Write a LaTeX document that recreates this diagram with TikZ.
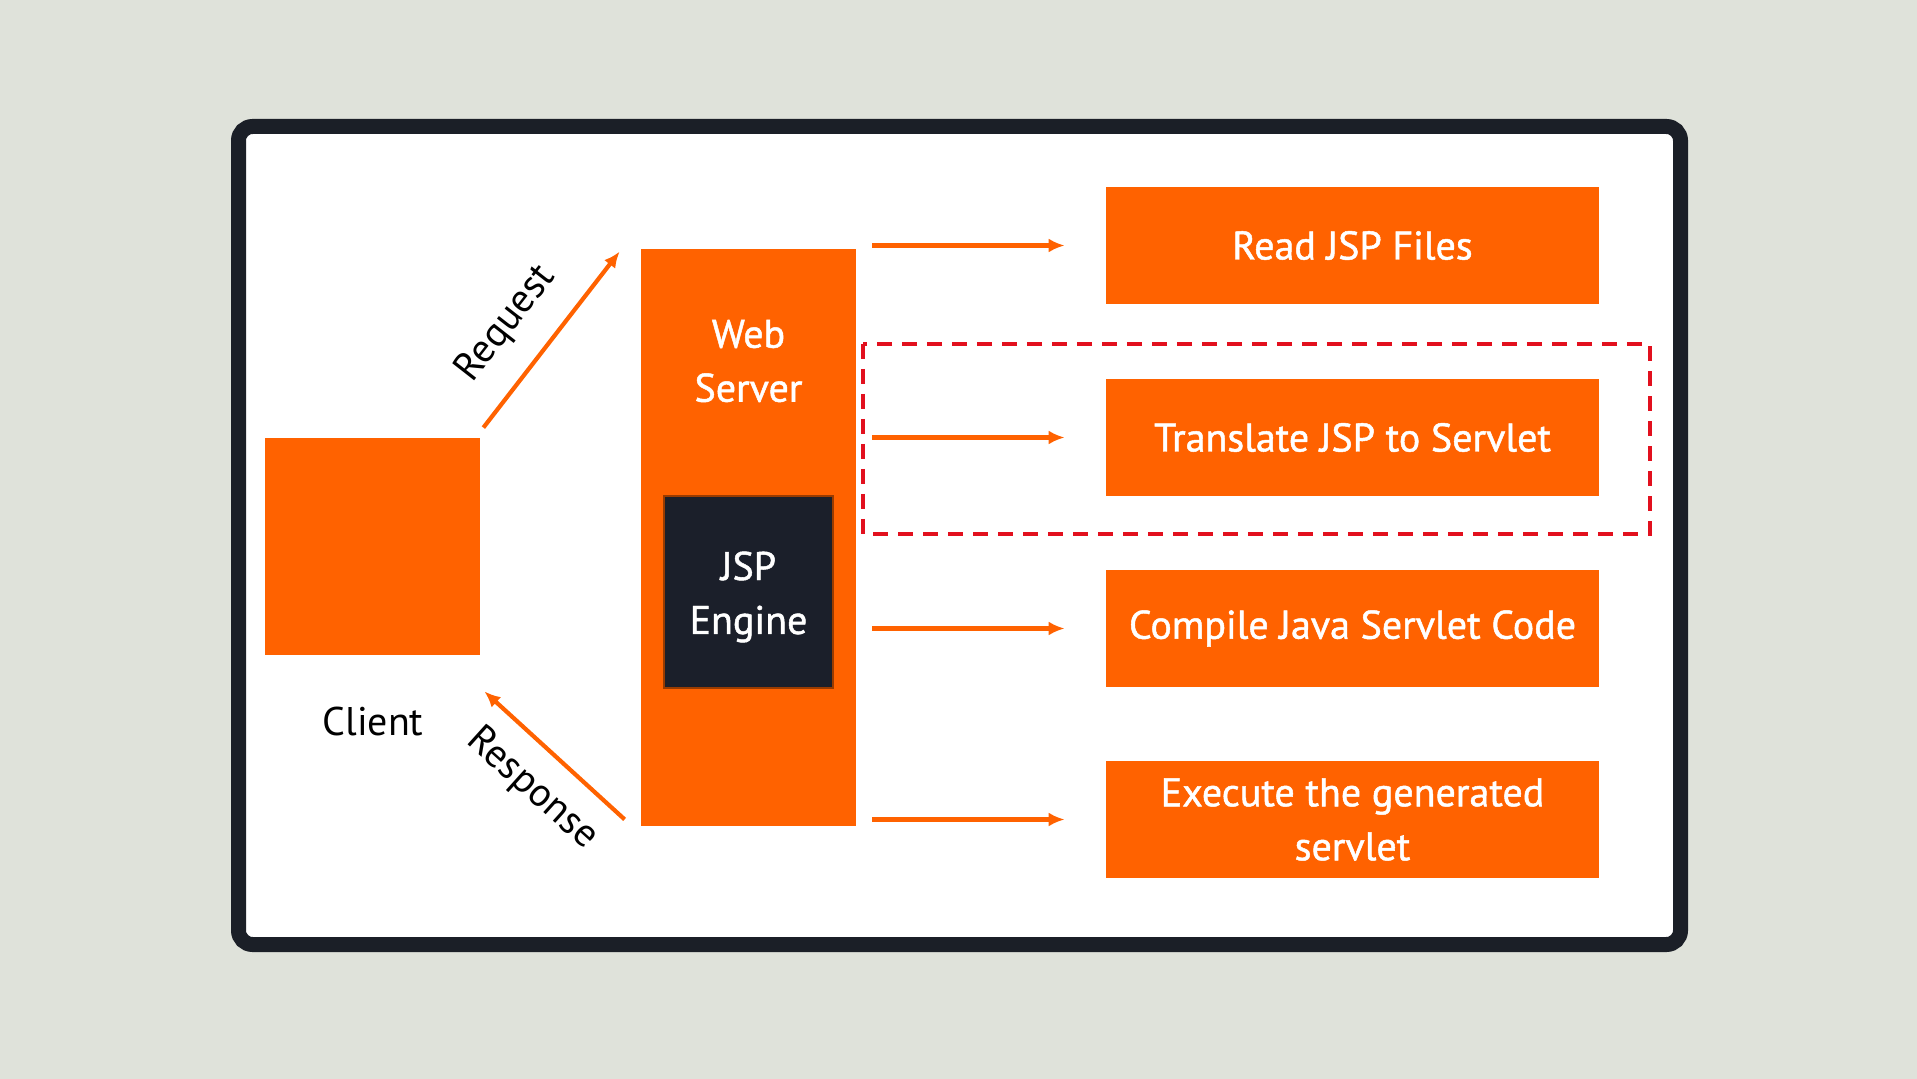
\documentclass[tikz,border=0pt]{standalone}
\usepackage{fontspec}
\setmainfont{PT Sans}
\newfontfamily\boxfont{PT Sans}[FakeBold=1.2]
\usepackage{tikz}
\usetikzlibrary{calc,arrows.meta}

\definecolor{bgcol}{RGB}{223,226,218}
\definecolor{framecol}{RGB}{27,31,39}
\definecolor{jsporange}{RGB}{255,98,0}
\definecolor{enginecol}{RGB}{27,31,42}
\definecolor{dashred}{RGB}{226,16,30}

\tikzset{
    orangebox/.style={fill=jsporange, draw=none, inner sep=0pt, text=white, align=center,
        font=\boxfont\fontsize{20}{27}\selectfont},
    stepbox/.style={orangebox, minimum width=246.5pt, minimum height=58.5pt},
    flowarrow/.style={draw=jsporange, line width=2.1pt, -{Latex[length=8pt,width=7pt]}},
    sidelabel/.style={font=\fontsize{20}{24}\selectfont, text=black}
}

\begin{document}
\begin{tikzpicture}[x=0.5pt, y=-0.5pt]
    % Background and frame
    \fill[bgcol] (0,0) rectangle (1917,1079);
    \useasboundingbox (0,0) rectangle (1917,1079);
    \draw[framecol, line width=7.5pt, fill=white, rounded corners=7pt] (238.5,126.5) rectangle (1680.5,944.5);

    % Client and web server
    \node[orangebox, minimum width=107.5pt, minimum height=108.5pt] (client) at (372.5,546.5) {};
    \node[sidelabel] (clientlabel) at (373,721) {Client};
    \node[orangebox, minimum width=107.5pt, minimum height=288.5pt] (web) at (748.5,537.5) {};
    \node[orangebox, fill=none] (weblabel) at (748.5,361) {Web\\Server};
    \node[orangebox, fill=enginecol, draw=jsporange!60!black, line width=0.6pt,
        minimum width=84.5pt, minimum height=96pt] (engine) at (748.5,592) {};
    \node[orangebox, fill=none] (enginelabel) at (748.5,597) {JSP\\Engine};

    % Steps
    \node[stepbox] (read) at (1352.5,245.5) {Read JSP Files};
    \node[stepbox] (translate) at (1352.5,437.5) {Translate JSP to Servlet};
    \node[stepbox] (compile) at (1352.5,628.5) {Compile Java Servlet Code};
    \node[stepbox] (execute) at (1352.5,819.5) {Execute the generated\\servlet};

    % Request / response
    \draw[flowarrow] ($(client.north east)+(3,-10)$) -- ($(web.north west)+(-21,3)$);
    \node[sidelabel, rotate=52] (reqlabel) at (506,324) {Request};
    \draw[flowarrow] ($(web.south west)+(-16,-7)$) -- ($(client.south east)+(4,36)$);
    \node[sidelabel, rotate=-42] (resplabel) at (532,789) {Response};

    % Engine steps
    \foreach \s in {read,translate,compile,execute}
        \draw[flowarrow] (web.east |- \s.west) ++(16,0) -- ($(\s.west)+(-41,0)$);

    % Highlight
    \draw[dashred, line width=1.6pt, dash pattern=on 7.5pt off 5pt] (863,344) rectangle (1650,534);
\end{tikzpicture}
\end{document}
